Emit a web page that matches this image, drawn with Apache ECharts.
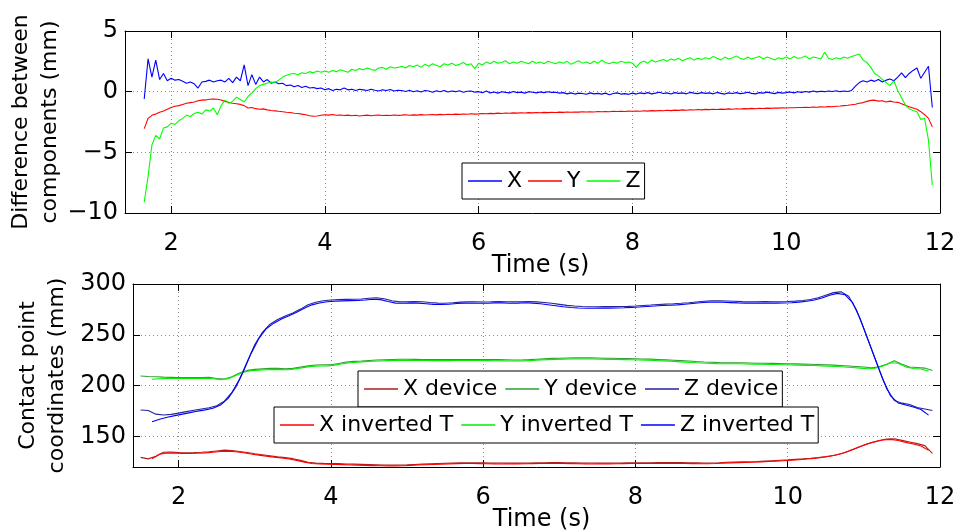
<!DOCTYPE html>
<html>
<head>
<meta charset="utf-8">
<script src="https://cdn.jsdelivr.net/npm/echarts@6/dist/echarts.min.js"></script>
<style>
  html, body { margin: 0; padding: 0; background: #fff; }
  #chart { width: 961px; height: 530px; }
</style>
</head>
<body>
<div id="chart"></div>
<script>
// ---- Tick values ----
const timeTicks = [2, 4, 6, 8, 10, 12];
const diffTicks = [-10, -5, 0, 5];
const coordTicks = [150, 200, 250, 300];

// ---- Upper panel: component differences (mm), sampled every 0.05 s from 1.65 s ----
const diffStart = 1.65;
const diffStep = 0.05;
const diffX = [
  -0.6, 2.7, 1.2, 2.6, 1.0, 1.5, 0.9,
  1.1, 0.95, 1.0, 0.85, 0.7, 0.8, 0.65, 0.3, 0.8, 0.85, 0.95, 0.8, 0.9, 0.95, 0.8, 1.1, 0.75, 1.2, 0.9, 2.2,
  0.5, 1.4, 0.6, 1.2, 0.8, 1.0, 0.7, 0.8, 0.65, 0.7, 0.5, 0.55, 0.4, 0.5, 0.35, 0.45, 0.3, 0.35, 0.25, 0.3,
  0.15, 0.25, 0.1, 0.2, 0.15, 0.3, 0.15, 0.2, 0.1, 0.2, 0.15, 0.1, 0.2, 0.12, 0.05, 0.15, 0.1, 0.18, 0.05, 0.12,
  0.1, 0.02, 0.12, 0.0, 0.08, -0.02, 0.1, 0.05, -0.05, 0.08, 0.0, 0.1, -0.03, 0.05, 0.0, 0.08, -0.05, 0.03, 0.06, -0.04,
  0.0, -0.08, 0.05, -0.1, -0.02, -0.12, 0.0, -0.06, -0.1, 0.02, -0.08, -0.04, -0.12, 0.0, -0.05, -0.1, -0.02, -0.08, 0.0, -0.06,
  -0.05, -0.12, -0.08, -0.18, -0.1, -0.2, -0.12, -0.15, -0.22, -0.1, -0.18, -0.14, -0.2, -0.12, -0.25, -0.15, -0.1, -0.2, -0.16, -0.22,
  -0.12, -0.2, -0.1, -0.16, -0.08, -0.18, -0.12, -0.05, -0.15, -0.1, -0.2, -0.08, -0.14, -0.1, -0.18, -0.06, -0.12, -0.16, -0.08, -0.14,
  -0.1, -0.18, -0.06, -0.14, -0.2, -0.1, -0.15, -0.08, -0.16, -0.12, -0.05, -0.14, -0.18, -0.08, -0.12, -0.04, -0.1, -0.16, -0.06, -0.12,
  -0.08, -0.02, -0.1, 0.0, -0.06, 0.02, -0.04, 0.05, -0.02, 0.04, 0.0, 0.06, 0.02, 0.08, 0.0, 0.05, 0.02, 0.1, 0.45, 0.75,
  0.9, 0.8, 0.95, 0.85, 1.0, 0.8, 0.95, 1.05, 0.9, 1.2, 1.55, 1.15, 1.5, 1.75, 1.95, 1.1, 1.6, 2.1, -1.3
];
const diffY = [
  -3.05, -2.2, -1.95, -1.85, -1.7, -1.6, -1.45,
  -1.3, -1.2, -1.15, -1.05, -0.95, -0.9, -0.85, -0.75, -0.7, -0.68, -0.62, -0.6, -0.62, -0.68, -0.8, -0.88, -0.95, -1.0, -1.05, -1.15,
  -1.35, -1.3, -1.4, -1.45, -1.42, -1.5, -1.55, -1.58, -1.62, -1.65, -1.7, -1.72, -1.78, -1.8, -1.85, -1.9, -1.98, -2.02, -2.0, -1.95,
  -1.9, -1.93, -1.88, -1.95, -1.92, -1.97, -1.93, -1.98, -1.95, -2.0, -1.96, -1.93, -1.98, -1.95, -1.92, -1.97, -1.94, -1.96, -1.92, -1.95,
  -1.93, -1.9, -1.94, -1.91, -1.93, -1.89, -1.92, -1.9, -1.88, -1.91, -1.87, -1.9, -1.86, -1.88, -1.85, -1.87, -1.84, -1.86, -1.82, -1.85,
  -1.83, -1.8, -1.82, -1.79, -1.81, -1.77, -1.8, -1.76, -1.78, -1.75, -1.77, -1.74, -1.76, -1.73, -1.75, -1.72, -1.74, -1.71, -1.73, -1.7,
  -1.72, -1.69, -1.71, -1.68, -1.7, -1.67, -1.69, -1.66, -1.68, -1.65, -1.67, -1.64, -1.66, -1.63, -1.65, -1.62, -1.64, -1.61, -1.63, -1.6,
  -1.62, -1.59, -1.61, -1.57, -1.6, -1.56, -1.58, -1.55, -1.57, -1.53, -1.56, -1.52, -1.54, -1.5, -1.53, -1.49, -1.51, -1.47, -1.5, -1.46,
  -1.48, -1.45, -1.47, -1.44, -1.46, -1.42, -1.45, -1.41, -1.43, -1.4, -1.42, -1.38, -1.41, -1.37, -1.39, -1.36, -1.38, -1.34, -1.36, -1.33,
  -1.35, -1.32, -1.33, -1.3, -1.31, -1.28, -1.3, -1.26, -1.28, -1.25, -1.26, -1.23, -1.24, -1.2, -1.18, -1.15, -1.12, -1.08, -1.04, -0.95,
  -0.9, -0.8, -0.72, -0.7, -0.78, -0.75, -0.85, -0.78, -0.85, -0.88, -1.0, -1.12, -1.25, -1.35, -1.45, -1.65, -1.9, -2.2, -2.9
];
const diffZ = [
  -9.1, -7.0, -4.4, -3.6, -3.9, -3.0, -2.9,
  -2.6, -2.7, -2.4, -2.2, -1.95, -2.05, -1.8, -1.7, -1.85, -1.5, -1.6, -1.35, -1.9, -1.15, -0.7, -0.95, -0.8, -0.45, -0.65, -0.85,
  -0.4, -0.1, 0.25, 0.5, 0.6, 0.7, 0.8, 0.75, 0.95, 1.2, 1.35, 1.45, 1.5, 1.4, 1.55, 1.5, 1.65, 1.55, 1.7, 1.6,
  1.7, 1.6, 1.75, 1.65, 1.8, 1.7, 1.6, 1.85, 1.75, 1.9, 1.8, 1.95, 1.85, 1.75, 1.95, 2.0, 1.85, 2.05, 1.95, 2.0,
  2.1, 1.95, 2.15, 2.05, 2.2, 2.0, 2.25, 2.1, 2.3, 2.15, 2.05, 2.3, 2.2, 2.35, 2.15, 2.25, 2.4, 2.2, 2.3, 1.9,
  2.35, 2.2, 2.45, 2.3, 2.5, 2.35, 2.4, 2.55, 2.3, 2.45, 2.35, 2.5, 2.4, 2.3, 2.5, 2.35, 2.45, 2.3, 2.5, 2.4,
  2.3, 2.45, 2.35, 2.5, 2.25, 2.4, 2.55, 2.35, 2.45, 2.3, 2.5, 2.35, 2.6, 2.4, 2.3, 2.45, 2.35, 2.5, 2.4, 2.45,
  2.35, 2.0, 2.4, 2.5, 2.35, 2.6, 2.45, 2.55, 2.65, 2.5, 2.7, 2.6, 2.75, 2.55, 2.7, 2.8, 2.6, 2.75, 2.65, 2.8,
  2.7, 2.9, 2.75, 2.6, 2.85, 2.7, 2.8, 2.95, 2.75, 2.65, 2.85, 2.7, 2.8, 2.9, 2.7, 2.85, 2.75, 2.6, 2.8, 2.7,
  2.85, 2.7, 2.9, 2.75, 2.8, 2.95, 2.7, 2.85, 2.8, 2.7, 3.25, 2.75, 2.65, 2.8, 2.7, 2.85, 2.75, 2.9, 3.0, 3.1,
  2.6, 2.4, 2.0, 1.5, 1.3, 1.0, 0.75, 0.5, 0.9, 0.1, -0.5, -1.1, -1.4, -1.55, -1.65, -2.3, -2.2, -4.0, -7.7
];

// ---- Lower panel: contact point coordinates (mm) ----
// device estimate, every 0.1 s from 1.5 s
const devStart = 1.5;
const devStep = 0.1;
const devX = [
  129.5, 128.0, 130.5, 134.5, 134.6, 134.2, 134.0, 134.2, 134.5, 135.0,
  135.8, 136.6, 136.3, 135.3, 134.2, 133.0, 132.0, 131.0, 130.0, 129.2,
  128.2, 126.5, 124.6, 123.8, 123.6, 123.5, 123.3, 123.0, 122.8, 122.6,
  122.4, 122.2, 122.0, 121.9, 122.0, 122.2, 122.5, 122.8, 123.1, 123.4,
  123.7, 124.0, 124.1, 124.2, 124.2, 124.1, 124.0, 123.9, 123.8, 123.8,
  123.9, 124.0, 124.1, 124.2, 124.3, 124.3, 124.2, 124.1, 124.0, 123.9,
  123.8, 123.8, 123.9, 124.0, 124.1, 124.2, 124.2, 124.2, 124.3, 124.3,
  124.3, 124.3, 124.2, 124.1, 124.0, 124.0, 124.2, 124.6, 124.9, 125.1,
  125.2, 125.4, 125.8, 126.2, 126.6, 127.0, 127.5, 128.0, 128.6, 129.3,
  130.2, 131.3, 133.0, 135.5, 138.5, 141.5, 144.0, 146.0, 147.6, 147.8,
  146.2, 144.6, 143.0, 141.0, 133.5
];
const devY = [
  209.5, 209.0, 208.8, 208.4, 208.2, 208.0, 208.0, 207.9, 208.1, 208.2,
  207.0, 206.6, 208.8, 212.5, 215.0, 216.0, 216.5, 217.0, 217.0, 216.6,
  217.0, 218.2, 219.5, 220.3, 220.5, 220.6, 221.8, 223.2, 223.9, 224.3,
  224.8, 225.2, 225.5, 225.8, 226.0, 226.0, 225.9, 225.8, 225.7, 225.6,
  225.6, 225.7, 225.8, 225.8, 225.8, 225.7, 225.6, 225.6, 225.5, 225.3,
  225.3, 225.6, 226.0, 226.4, 226.8, 227.0, 227.2, 227.3, 227.4, 227.3,
  227.2, 227.0, 226.9, 226.7, 226.6, 226.5, 226.3, 226.1, 225.8, 225.4,
  225.0, 224.6, 224.2, 223.7, 223.3, 223.0, 222.7, 222.6, 222.6, 222.5,
  222.3, 222.1, 222.0, 221.9, 221.8, 221.6, 221.4, 221.2, 221.0, 220.8,
  220.5, 220.2, 219.8, 219.4, 218.9, 218.3, 217.6, 218.5, 221.0, 224.5,
  221.0, 218.3, 217.8, 217.3, 215.0
];
const devZ = [
  176.0, 175.5, 172.0, 171.2, 171.8, 173.0, 174.5, 175.8, 177.0, 178.2,
  180.2, 184.8, 193.5, 206.5, 223.5, 240.5, 252.5, 260.5, 265.0, 268.5,
  271.5, 275.3, 279.5, 282.0, 283.5, 284.3, 284.6, 284.9, 285.0, 285.2,
  286.0, 286.5, 285.5, 283.5, 282.4, 282.5, 282.8, 282.5, 281.8, 281.2,
  281.0, 281.5, 282.2, 282.6, 282.5, 282.3, 282.5, 282.8, 282.6, 282.4,
  282.6, 282.8, 282.4, 281.8, 281.0, 280.0, 279.0, 278.3, 277.8, 277.6,
  277.6, 277.7, 277.7, 277.8, 278.0, 278.4, 278.9, 279.3, 279.8, 280.2,
  280.5, 281.0, 281.6, 282.3, 283.0, 283.4, 283.5, 283.3, 283.0, 282.7,
  282.6, 282.6, 282.7, 282.6, 282.6, 282.8, 283.2, 283.8, 284.8, 286.5,
  289.0, 291.5, 292.3, 288.0, 275.0, 256.0, 236.0, 216.0, 197.0, 185.5,
  182.8, 181.5, 178.5, 177.0, 175.5
];
// inverted-T estimate, every 0.1 s from 1.65 s
const invStart = 1.65;
const invStep = 0.1;
const invX = [
  128.0, 132.5, 133.8, 133.6, 133.4, 133.3, 133.5, 133.9, 134.5, 135.3,
  135.6, 135.0, 134.0, 132.8, 131.7, 130.7, 129.7, 128.8, 127.9, 126.5,
  124.8, 123.4, 122.9, 122.7, 122.5, 122.3, 122.0, 121.8, 121.6, 121.4,
  121.2, 121.1, 121.1, 121.3, 121.6, 121.9, 122.2, 122.5, 122.8, 123.1,
  123.3, 123.4, 123.4, 123.3, 123.2, 123.1, 123.0, 123.0, 123.1, 123.2,
  123.3, 123.4, 123.5, 123.5, 123.4, 123.3, 123.2, 123.1, 123.0, 123.0,
  123.1, 123.2, 123.3, 123.4, 123.4, 123.4, 123.5, 123.5, 123.5, 123.5,
  123.4, 123.3, 123.2, 123.2, 123.4, 123.8, 124.1, 124.3, 124.4, 124.6,
  125.0, 125.4, 125.8, 126.2, 126.7, 127.2, 127.8, 128.5, 129.4, 130.5,
  132.0, 134.2, 137.2, 140.2, 142.8, 144.9, 146.6, 147.2, 146.0, 144.2,
  142.6, 140.6, 136.5
];
const invY = [
  206.3, 206.8, 207.0, 207.1, 207.2, 207.1, 207.0, 207.2, 206.8, 205.8,
  206.8, 210.0, 213.2, 214.8, 215.2, 215.6, 216.0, 215.8, 215.6, 216.8,
  218.0, 219.0, 219.4, 219.5, 220.2, 221.6, 222.6, 223.1, 223.6, 224.0,
  224.3, 224.6, 224.8, 225.0, 224.9, 224.8, 224.7, 224.6, 224.6, 224.6,
  224.7, 224.8, 224.8, 224.7, 224.6, 224.5, 224.4, 224.3, 224.2, 224.4,
  224.8, 225.2, 225.6, 225.9, 226.1, 226.2, 226.3, 226.3, 226.2, 226.0,
  225.9, 225.7, 225.6, 225.5, 225.3, 225.1, 224.8, 224.4, 224.0, 223.6,
  223.2, 222.8, 222.3, 222.0, 221.7, 221.6, 221.6, 221.5, 221.3, 221.1,
  221.0, 220.9, 220.8, 220.6, 220.4, 220.2, 220.0, 219.8, 219.5, 219.2,
  218.8, 218.4, 217.9, 217.3, 216.7, 217.2, 219.3, 222.5, 222.0, 218.5,
  216.9, 216.4, 214.5
];
const invZ = [
  164.5, 167.0, 169.0, 170.5, 172.0, 173.5, 175.0, 176.2, 177.8, 181.0,
  187.5, 198.5, 214.0, 231.5, 246.0, 256.0, 261.5, 265.5, 268.8, 272.3,
  276.2, 279.5, 281.3, 282.5, 283.0, 283.4, 283.6, 283.8, 284.3, 285.0,
  284.6, 282.8, 281.2, 281.0, 281.4, 281.2, 280.6, 280.0, 279.8, 280.1,
  280.8, 281.2, 281.3, 281.0, 281.1, 281.4, 281.4, 281.1, 281.2, 281.5,
  281.2, 280.6, 279.6, 278.6, 277.6, 276.9, 276.4, 276.2, 276.2, 276.3,
  276.3, 276.4, 276.6, 277.0, 277.4, 277.9, 278.3, 278.8, 279.1, 279.5,
  280.1, 280.8, 281.5, 282.0, 282.1, 282.0, 281.7, 281.4, 281.2, 281.2,
  281.3, 281.2, 281.2, 281.3, 281.6, 282.2, 283.0, 284.3, 286.3, 289.0,
  290.8, 289.5, 282.0, 266.0, 246.0, 226.0, 206.0, 190.0, 183.0, 181.0,
  179.0, 176.5, 171.0
];

// ---- helpers ----
const FONT = 'DejaVu Sans';
function timed(values, start, step) {
  return values.map((v, i) => [+(start + i * step).toFixed(3), v]);
}
const minus = v => String(v).replace('-', '\u2212');

function xAxes(gridIndex, nameShift) {
  const common = {
    gridIndex, type: 'value', min: 1.4, max: 12,
    axisLine: { show: true, onZero: false, lineStyle: { color: '#000', width: 1 } },
    axisTick: { show: true, inside: true, length: 7, customValues: timeTicks, lineStyle: { color: '#000' } }
  };
  return [
    Object.assign({}, common, {
      position: 'bottom',
      axisLabel: { customValues: timeTicks, margin: 19, fontFamily: FONT, fontSize: 24, color: '#000' },
      splitLine: { show: true, lineStyle: { color: '#8a8a8a', type: [1, 3], width: 1 } },
      name: 'Time (s)', nameLocation: 'middle', nameGap: 41, nameMoveOverlap: false,
      nameTextStyle: { fontFamily: FONT, fontSize: 24, color: '#000', padding: [0, 0, 0, nameShift] }
    }),
    Object.assign({}, common, {
      position: 'top',
      axisLabel: { show: false },
      splitLine: { show: false }
    })
  ];
}

function yAxes(gridIndex, cfg) {
  const common = {
    gridIndex, type: 'value', min: cfg.min, max: cfg.max,
    axisLine: { show: true, onZero: false, lineStyle: { color: '#000', width: 1 } },
    axisTick: { show: true, inside: true, length: 7, customValues: cfg.ticks, lineStyle: { color: '#000' } }
  };
  return [
    Object.assign({}, common, {
      position: 'left',
      axisLabel: { customValues: cfg.ticks, margin: 7, fontFamily: FONT, fontSize: 24, color: '#000', formatter: minus },
      splitLine: { show: true, lineStyle: { color: '#8a8a8a', type: [1, 3], width: 1 } },
      name: cfg.name, nameLocation: 'middle', nameGap: cfg.gap, nameRotate: 90, nameMoveOverlap: false,
      nameTextStyle: { fontFamily: FONT, fontSize: 22, lineHeight: 29, color: '#000', align: 'center' }
    }),
    Object.assign({}, common, {
      position: 'right',
      axisLabel: { show: false },
      splitLine: { show: false }
    })
  ];
}

function line(name, data, color, xi, yi) {
  return {
    name, type: 'line', data, xAxisIndex: xi, yAxisIndex: yi,
    symbol: 'none', showSymbol: false, smooth: false,
    lineStyle: { color, width: 1.1 }, itemStyle: { color },
    emphasis: { disabled: true }
  };
}

// legend keys are drawn as thin line segments
const legendBase = {
  orient: 'horizontal',
  icon: 'rect',
  itemWidth: 34, itemHeight: 1.5, itemGap: 8,
  padding: [5, 4, 5, 6],
  backgroundColor: '#fff', borderColor: '#000', borderWidth: 1, borderRadius: 0,
  selectedMode: false,
  textStyle: { fontFamily: FONT, fontSize: 22, color: '#000', lineHeight: 26 }
};

const chart = echarts.init(document.getElementById('chart'), null, { renderer: 'canvas' });
chart.setOption({
  animation: false,
  backgroundColor: '#fff',
  grid: [
    { left: 125, top: 31, right: 21, height: 182, outerBoundsMode: 'none', containLabel: false },
    { left: 133, top: 284, right: 21, height: 183, outerBoundsMode: 'none', containLabel: false }
  ],
  xAxis: [...xAxes(0, 16), ...xAxes(1, 10)],
  yAxis: [
    ...yAxes(0, { min: -10, max: 5, ticks: diffTicks, name: 'Difference between\ncomponents (mm)', gap: 60 }),
    ...yAxes(1, { min: 120, max: 300, ticks: coordTicks, name: 'Contact point\ncoordinates (mm)', gap: 61 })
  ],
  legend: [
    Object.assign({}, legendBase, { data: ['X', 'Y', 'Z'], left: 462, top: 163, itemGap: 6 }),
    Object.assign({}, legendBase, { data: ['X device', 'Y device', 'Z device'], left: 358, top: 371 }),
    Object.assign({}, legendBase, { data: ['X inverted T', 'Y inverted T', 'Z inverted T'], left: 274, top: 407 })
  ],
  series: [
    line('X', timed(diffX, diffStart, diffStep), '#0000ff', 0, 0),
    line('Y', timed(diffY, diffStart, diffStep), '#ff0000', 0, 0),
    line('Z', timed(diffZ, diffStart, diffStep), '#00ff00', 0, 0),
    line('X device', timed(devX, devStart, devStep), '#b01c1c', 2, 2),
    line('Y device', timed(devY, devStart, devStep), '#2ea02e', 2, 2),
    line('Z device', timed(devZ, devStart, devStep), '#23239a', 2, 2),
    line('X inverted T', timed(invX, invStart, invStep), '#ff0000', 2, 2),
    line('Y inverted T', timed(invY, invStart, invStep), '#00ee00', 2, 2),
    line('Z inverted T', timed(invZ, invStart, invStep), '#0000ff', 2, 2)
  ]
});
</script>
</body>
</html>
